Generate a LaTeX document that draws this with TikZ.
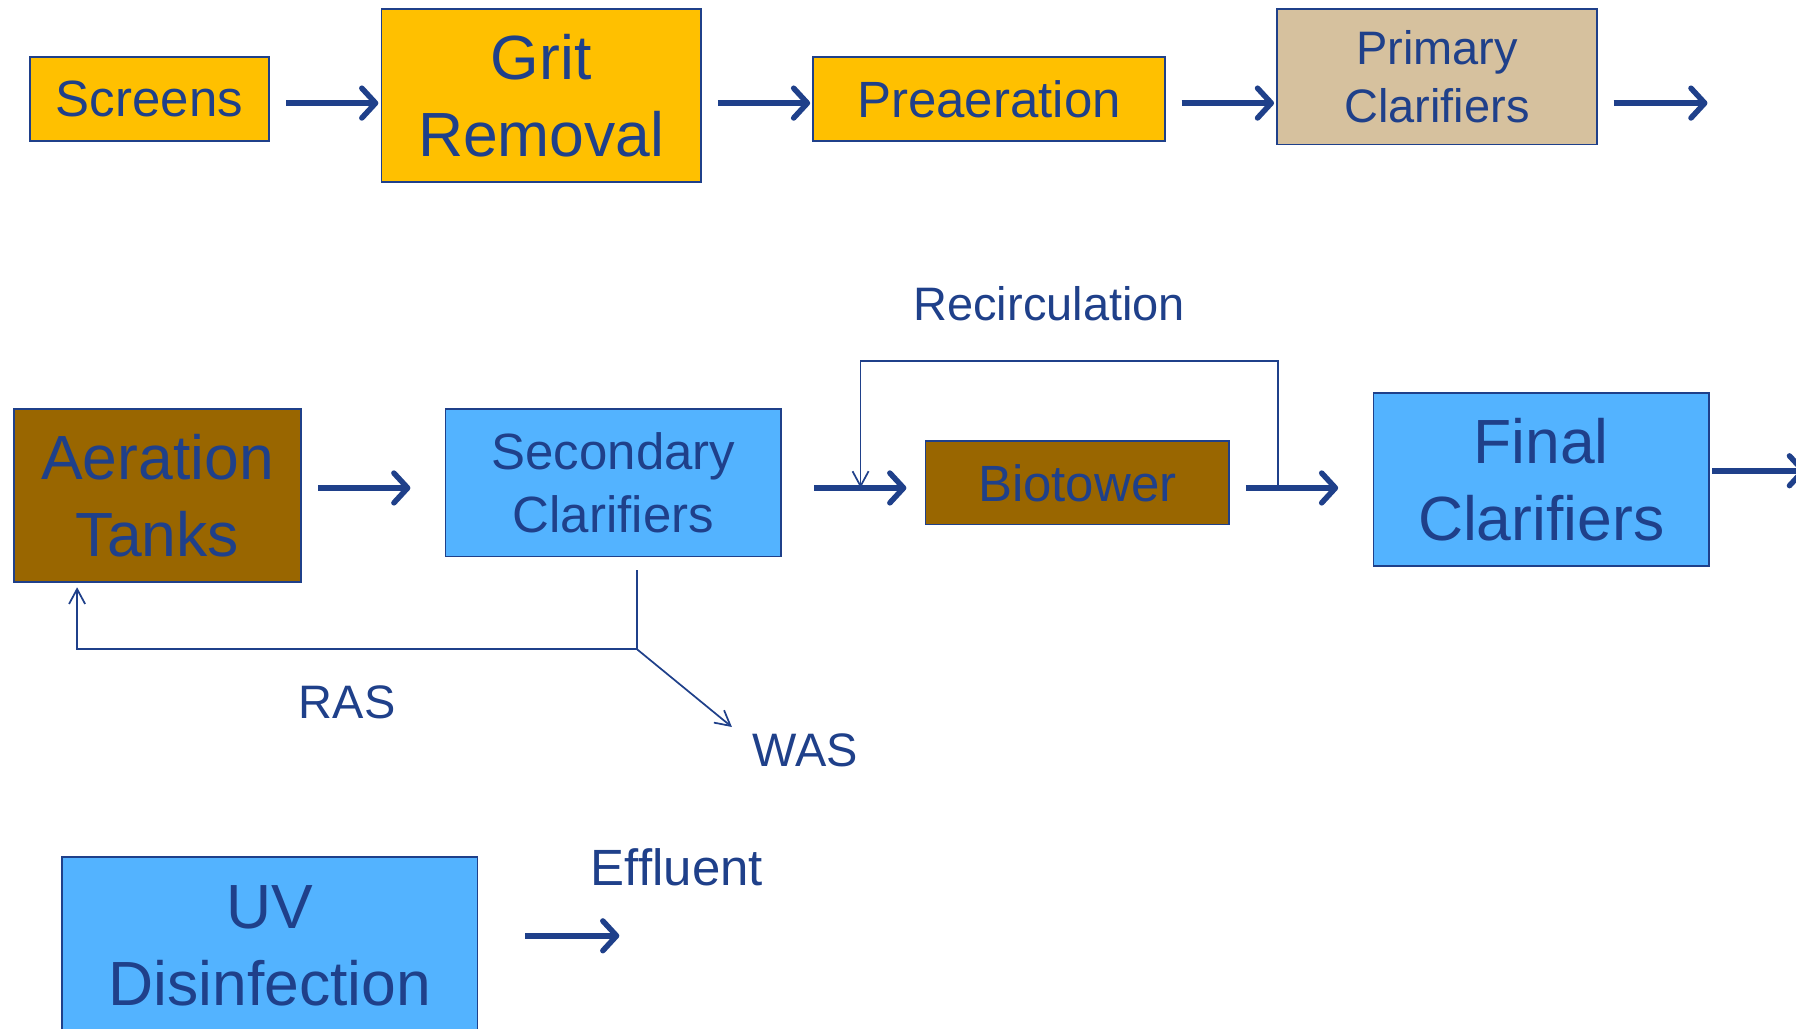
\documentclass[tikz,border=0pt]{standalone}
\usepackage{fontspec}
\setmainfont{Liberation Sans}
\usetikzlibrary{arrows.meta,calc}
\definecolor{ink}{HTML}{1F408A}
\definecolor{gold}{HTML}{FFC000}
\definecolor{tan}{HTML}{D6C19E}
\definecolor{umber}{HTML}{996600}
\definecolor{sky}{HTML}{53B3FF}
\begin{document}
\begin{tikzpicture}[x=1pt,y=-1pt,
  box/.style={draw=ink,line width=1.4pt,text=ink,align=center,inner sep=0pt,anchor=center},
  fbig/.style={font=\fontsize{54.5}{67}\selectfont},
  fmid/.style={font=\fontsize{44.5}{55}\selectfont},
  fsmall/.style={font=\fontsize{41}{51}\selectfont},
  flow/.style={draw=ink,line width=4.8pt,-{Straight Barb[length=12pt,width=26pt,round]}},
  feed/.style={draw=ink,line width=1.5pt,-{Straight Barb[length=13pt,width=14pt]}},
  feedline/.style={draw=ink,line width=1.5pt},
  lbl/.style={text=ink,inner sep=0pt}]
\clip (0,0) rectangle (1568,898);
\fill[white] (0,0) rectangle (1568,898);

% preliminary treatment
\node[box,fill=gold,fmid,minimum width=209pt,minimum height=73pt] (screens) at (130.5,86.5) {Screens};
\node[box,fill=gold,fbig,minimum width=279pt,minimum height=151pt] (grit) at (472.5,83.5) {Grit\\Removal};
\node[box,fill=gold,fmid,minimum width=307pt,minimum height=73pt] (preaer) at (863.5,86.5) {Preaeration};
\node[box,fill=tan,fsmall,minimum width=279pt,minimum height=118pt] (primary) at (1254.5,67) {Primary\\Clarifiers};

% secondary treatment
\node[box,fill=umber,fbig,minimum width=251pt,minimum height=151pt] (aeration) at (137.5,432.5) {Aeration\\Tanks};
\node[box,fill=sky,fmid,minimum width=293pt,minimum height=129pt] (secondary) at (535.5,421.5) {Secondary\\Clarifiers};
\node[box,fill=umber,fmid,minimum width=265pt,minimum height=73pt] (biotower) at (940.5,421.5) {Biotower};
\node[box,fill=sky,fbig,minimum width=293pt,minimum height=151pt] (final) at (1345.5,418.5) {Final\\Clarifiers};

% disinfection (runs past the lower edge)
\node[box,fill=sky,fbig,minimum width=363pt,minimum height=156pt] (uv) at (235.5,826) {UV\\Disinfection};

% labels
\node[lbl,fsmall] (recirc) at (916,265) {Recirculation};
\node[lbl,fsmall] (ras) at (303,613) {RAS};
\node[lbl,fsmall] (was) at (703,655) {WAS};
\node[lbl,fmid] (effluent) at (591,757) {Effluent};

% main flow, row 1
\draw[flow] ($(screens.east)+(14,3.5)$) coordinate (a1) -- ($(grit.west |- a1)+(-2,0)$);
\draw[flow] ($(grit.east)+(14,6.5)$) coordinate (a2) -- ($(preaer.west |- a2)+(-2,0)$);
\draw[flow] ($(preaer.east)+(14,3.5)$) coordinate (a3) -- ($(primary.west |- a3)+(-2,0)$);
\draw[flow] ($(primary.east)+(14,23)$) coordinate (a4) -- ++(82,0) coordinate (a4e);

% main flow, row 2
\draw[flow] ($(aeration.east)+(14,-6.5)$) coordinate (b1) -- ($(secondary.west |- b1)+(-30,0)$);
\draw[flow] ($(secondary.east)+(28,4.5)$) coordinate (b2) -- ($(biotower.west |- b2)+(-16,0)$);
\draw[flow] ($(biotower.east)+(14,4.5)$) coordinate (b3) -- ($(final.west |- b3)+(-30,0)$);
\draw[flow] ($(final.east)+(2,-7.5)$) coordinate (b4) -- ++(82,0) coordinate (b4e);

% effluent
\draw[flow] ($(uv.east)+(41,-9)$) coordinate (c1) -- ++(82,0) coordinate (c1e);

% recirculation around the biotower
\coordinate (rj) at ($(biotower.east)+(42,4.5)$);
\coordinate (rm) at ($(biotower.west)+(-56,4.5)$);
\draw[feed] (rj) -- ++(0,-111) -| (rm);

% return and waste activated sludge
\coordinate (sj) at ($(secondary.south)+(20.5,11)$);
\draw[feedline] (sj) -- ++(0,69) coordinate (sk);
\draw[feed] (sk) -| ($(aeration.south west)+(56,4)$);
\draw[feed] (sk) -- ++(83,68);
\end{tikzpicture}
\end{document}
